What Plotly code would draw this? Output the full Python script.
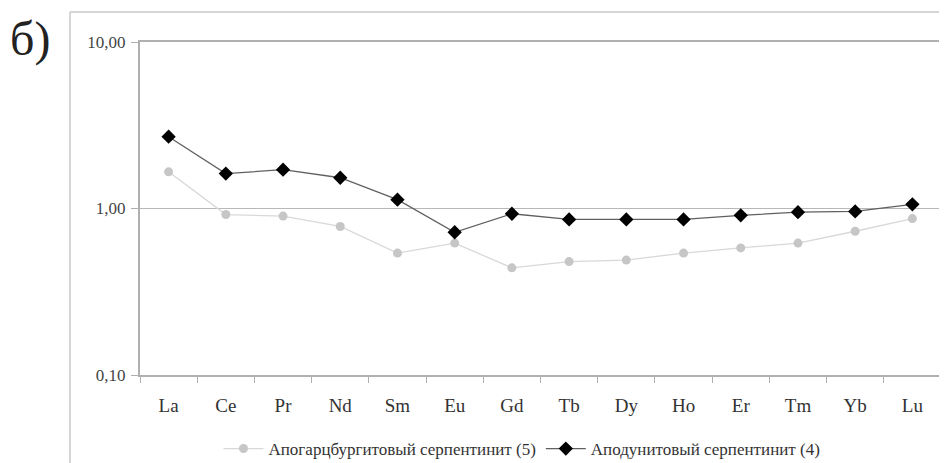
import plotly.graph_objects as go

elements = ["La", "Ce", "Pr", "Nd", "Sm", "Eu", "Gd", "Tb", "Dy", "Ho", "Er", "Tm", "Yb", "Lu"]
apoharz = [1.66, 0.92, 0.90, 0.78, 0.54, 0.62, 0.44, 0.48, 0.49, 0.54, 0.58, 0.62, 0.73, 0.87]
apodun = [2.70, 1.62, 1.71, 1.53, 1.13, 0.72, 0.93, 0.86, 0.86, 0.86, 0.91, 0.95, 0.96, 1.06]
name_gray = "Апогарцбургитовый серпентинит (5)"
name_black = "Аподунитовый серпентинит (4)"
ytick_vals = [0.1, 1, 10]
ytick_text = ["0,10", "1,00", "10,00"]

# page body has an 8px margin: figure coords = screen coords - 8
OFF = 8
W, H = 947 - OFF, 463 - OFF
ML, MT = 140 - OFF, 42 - OFF
MR = W - (941 - OFF)
MB = H - (375 - OFF)
FONT = "Liberation Serif"

fig = go.Figure()
fig.add_trace(go.Scatter(
    x=elements, y=apoharz, name=name_gray, mode="lines+markers",
    line=dict(color="#d8d8d8", width=1.3),
    marker=dict(symbol="circle", size=9, color="#c6c6c6"),
))
fig.add_trace(go.Scatter(
    x=elements, y=apodun, name=name_black, mode="lines+markers",
    line=dict(color="#606060", width=1.3),
    marker=dict(symbol="diamond", size=11, color="#000000"),
))

pw = W - ML - MR
ph = H - MT - MB
def px(x):  # screen x -> paper
    return (x - OFF - ML) / pw
def py(y):  # screen y -> paper
    return 1 - (y - OFF - MT) / ph

# outer frame
fig.add_shape(type="line", xref="paper", yref="paper",
              x0=px(70), x1=px(960), y0=py(12), y1=py(12),
              line=dict(color="#c8c8c8", width=1.5))
fig.add_shape(type="line", xref="paper", yref="paper",
              x0=px(70), x1=px(70), y0=py(12), y1=py(480),
              line=dict(color="#c8c8c8", width=1.5))

fig.add_annotation(text="б)", xref="paper", yref="paper",
                   x=px(OFF), y=py(39), xanchor="left", yanchor="middle",
                   showarrow=False, font=dict(family=FONT, size=48, color="#222"))

fig.update_layout(
    width=W, height=H,
    margin=dict(l=ML, r=MR, t=MT, b=MB, autoexpand=False),
    paper_bgcolor="white", plot_bgcolor="white",
    font=dict(family=FONT, size=17, color="#333"),
    showlegend=True,
    legend=dict(orientation="h", x=px(522), xanchor="center", y=py(449), yanchor="middle",
                font=dict(family=FONT, size=17, color="#333"), itemwidth=40,
                bgcolor="rgba(0,0,0,0)"),
)
fig.update_xaxes(
    type="category", range=[-0.5, len(elements) - 0.5],
    tickson="boundaries", ticks="outside", ticklen=6,
    tickcolor="#b0b0b0", showline=True, linecolor="#b0b0b0", linewidth=1.5,
    mirror=True, showgrid=False, tickfont=dict(family=FONT, size=19, color="#333"),
    ticklabelstandoff=12, automargin=False,
)
fig.update_yaxes(
    type="log", range=[-1, 1], tickvals=ytick_vals, ticktext=ytick_text,
    ticks="outside", ticklen=7, tickcolor="#b0b0b0",
    showline=True, linecolor="#b0b0b0", linewidth=2, mirror=True,
    showgrid=True, gridcolor="#b8b8b8", gridwidth=1.2,
    tickfont=dict(family=FONT, size=17, color="#444"),
    ticklabelstandoff=2,
    zeroline=False, automargin=False,
)
fig.write_html("out.html")
